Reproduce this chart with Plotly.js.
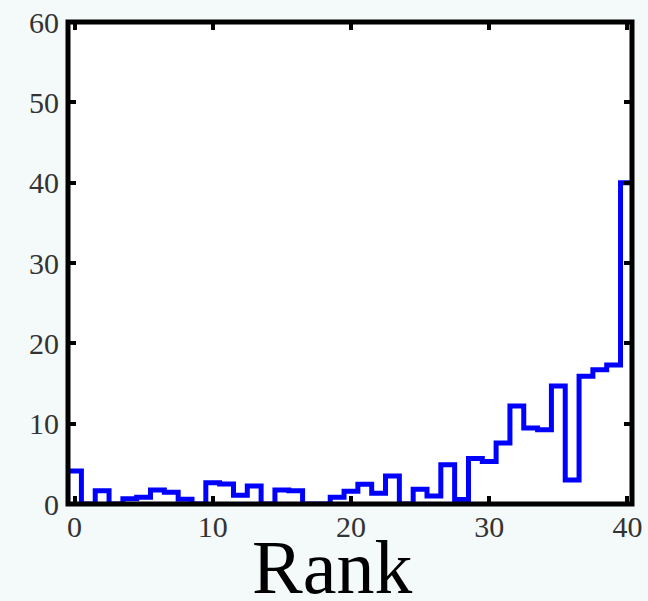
<!DOCTYPE html>
<html>
<head>
<meta charset="utf-8">
<script src="https://cdn.plot.ly/plotly-3.0.1.min.js"></script>
<style>html,body{margin:0;padding:0;background:#f3faf9;}#chart{width:648px;height:601px;}</style>
</head>
<body>
<div id="chart"></div>
<script>
// Data: value per rank (step histogram)
const ranks = [0,1,2,3,4,5,6,7,8,9,10,11,12,13,14,15,16,17,18,19,20,21,22,23,24,25,26,27,28,29,30,31,32,33,34,35,36,37,38,39,40];
const counts = [4.1,0,1.65,0,0.65,0.85,1.75,1.45,0.6,0,2.65,2.5,1.1,2.25,0,1.75,1.65,0,0,0.85,1.6,2.45,1.35,3.5,0,1.85,1.0,4.9,0.55,5.65,5.3,7.6,12.2,9.45,9.25,14.7,3.0,15.9,16.7,17.3,40.0];
const xTicks = [0,10,20,30,40];
const yTicks = [0,10,20,30,40,50,60];
const xLabel = 'Rank';

// Build step path (bins centred on each rank)
const half = 0.5;
const last = ranks.length - 1;
const sx = [ranks[0] - half].concat(ranks.map(r => r - half), [ranks[last] + half, ranks[last] + half]);
const sy = [0].concat(counts, [counts[last], 0]);

const font = 'Liberation Serif, Times New Roman, serif';
const trace = {
  x: sx, y: sy, type: 'scatter', mode: 'lines',
  line: {shape: 'hv', color: '#0000ff', width: 5},
  hoverinfo: 'skip', showlegend: false
};

const layout = {
  width: 648, height: 601,
  paper_bgcolor: '#f3faf9', plot_bgcolor: '#ffffff',
  margin: {l: 68, r: 16, t: 22, b: 97, pad: 0},
  showlegend: false,
  xaxis: {
    range: [-0.47, 40.33], tickvals: xTicks, ticktext: xTicks.map(String),
    ticks: 'inside', ticklen: 8, tickwidth: 4, tickcolor: '#000',
    mirror: 'ticks', showline: false, showgrid: false, zeroline: false,
    tickfont: {family: font, size: 30, color: '#333'}, ticklabelstandoff: 2
  },
  yaxis: {
    range: [0, 60], tickvals: yTicks, ticktext: yTicks.map(String),
    ticks: 'inside', ticklen: 8, tickwidth: 4, tickcolor: '#000',
    mirror: 'ticks', showline: false, showgrid: false, zeroline: false,
    tickfont: {family: font, size: 30, color: '#333'}, ticklabelstandoff: 8
  },
  shapes: [{
    type: 'rect', xref: 'paper', yref: 'paper', x0: 0, x1: 1, y0: 0, y1: 1,
    line: {color: '#000', width: 5}, fillcolor: 'rgba(0,0,0,0)', layer: 'above'
  }],
  annotations: [{
    text: xLabel, xref: 'paper', yref: 'paper', x: 0.468, y: -0.131,
    xanchor: 'center', yanchor: 'middle', showarrow: false,
    height: 62, valign: 'middle',
    font: {family: font, size: 76, color: '#000'}
  }]
};

Plotly.newPlot('chart', [trace], layout, {displayModeBar: false, staticPlot: true});
</script>
</body>
</html>
